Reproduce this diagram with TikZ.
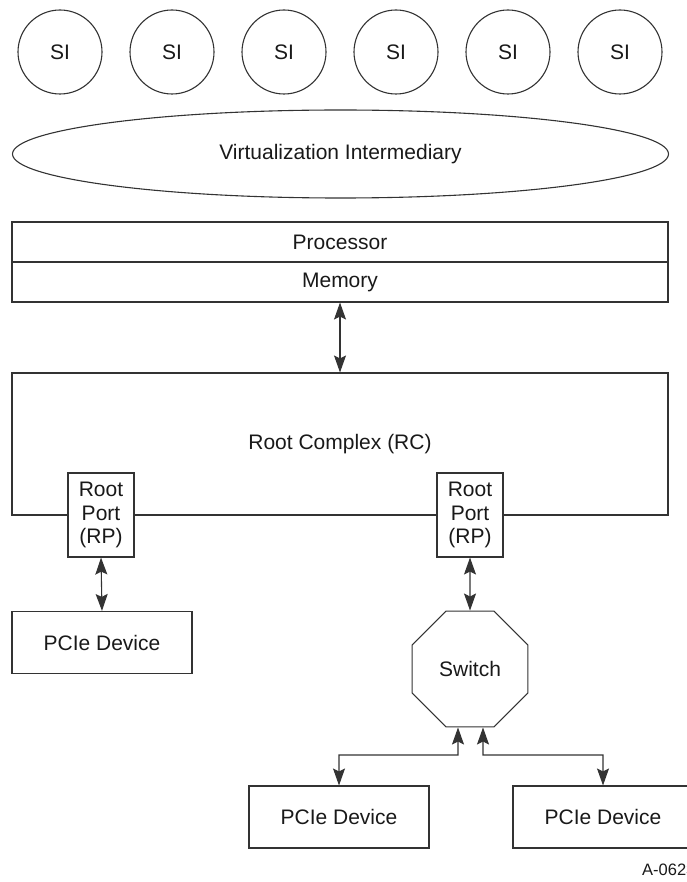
\documentclass[tikz,border=0pt]{standalone}
\usepackage{fontspec}
\setmainfont{Liberation Sans}
\usetikzlibrary{shapes.geometric,arrows.meta}
\begin{document}
\begin{tikzpicture}[x=1pt,y=-1pt,
  every node/.style={font=\fontsize{21}{23.5}\selectfont, text=black!90},
  ln/.style={draw=black!80, line width=1.1pt},
  si/.style={ln, circle, minimum size=84pt, inner sep=0pt},
  box/.style={ln, rectangle, inner sep=0pt},
  rpbox/.style={box, fill=white, minimum width=66pt, minimum height=84pt, align=center},
  dev/.style={box, minimum width=180pt, minimum height=62pt},
  dbl/.style={draw=black!80, line width=1.1pt, {Stealth[length=17pt,width=12pt,inset=3pt]}-{Stealth[length=17pt,width=12pt,inset=3pt]}},
]
\useasboundingbox (0,0) rectangle (686,882);

% SI circles
\node[si] (si1) at (60,52) {SI};
\node[si] (si2) at (172,52) {SI};
\node[si] (si3) at (284,52) {SI};
\node[si] (si4) at (396,52) {SI};
\node[si] (si5) at (508,52) {SI};
\node[si] (si6) at (620,52) {SI};

% Virtualization intermediary
\node[ln, ellipse, minimum width=656pt, minimum height=88pt, inner sep=0pt] (vi) at (340.5,154) {Virtualization Intermediary};

% Processor / Memory
\node[box, minimum width=656pt, minimum height=40pt] (proc) at (340,242) {Processor};
\node[box, minimum width=656pt, minimum height=40pt] (mem) at (340,282) {Memory};

% Root complex
\node[box, minimum width=656pt, minimum height=142pt] (rc) at (340,444) {Root Complex (RC)};

% Root ports
\node[rpbox] (rp1) at (101,515) {Root\\Port\\(RP)};
\node[rpbox] (rp2) at (470,515) {Root\\Port\\(RP)};

% Devices
\node[dev] (pcie1) at (102,642.5) {PCIe Device};
\node[ln, regular polygon, regular polygon sides=8, minimum size=125.4pt, inner sep=0pt] (sw) at (470,669) {Switch};
\node[dev] (pcie2) at (339,817) {PCIe Device};
\node[dev] (pcie3) at (603,817) {PCIe Device};

% Label
\node[anchor=west, font=\fontsize{16.5}{18}\selectfont, inner sep=0pt] (lbl) at (642,870) {A-0623};

% Connectors
\draw[dbl] (mem.south) -- (rc.north);
\draw[dbl] (rp1.south) -- (pcie1.north);
\draw[dbl] (rp2.south) -- (sw.north);
\coordinate (jl) at (458,755);
\coordinate (jr) at (483,755);
\draw[dbl] ([xshift=-12pt]sw.south) -- (jl) -| (pcie2.north);
\draw[dbl] ([xshift=13pt]sw.south) -- (jr) -| (pcie3.north);
\end{tikzpicture}
\end{document}
